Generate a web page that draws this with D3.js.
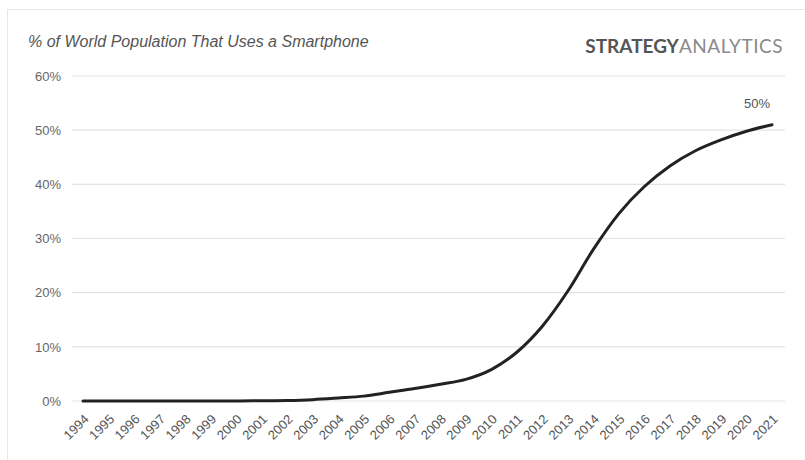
<!DOCTYPE html>
<html lang="en">
<head>
<meta charset="UTF-8">
<title>Smartphone users</title>
<script src="https://d3js.org/d3.v7.min.js"></script>
<style>
  body { margin: 0; background: #fff; }
  text { font-family: "Liberation Sans", Arial, sans-serif; }
</style>
</head>
<body>
<script>
  // data
  var years = [1994, 1995, 1996, 1997, 1998, 1999, 2000, 2001, 2002, 2003, 2004, 2005, 2006, 2007,
               2008, 2009, 2010, 2011, 2012, 2013, 2014, 2015, 2016, 2017, 2018, 2019, 2020, 2021]
  var share = [0, 0, 0, 0, 0, 0, 0, 0.05, 0.1, 0.25, 0.55, 0.9, 1.6, 2.3,
               3.1, 4.0, 5.8, 9.0, 13.8, 20.3, 28.0, 34.6, 39.6, 43.4, 46.2, 48.2, 49.8, 51.0]
  var yTicks = [0, 10, 20, 30, 40, 50, 60]
  var title = '% of World Population That Uses a Smartphone'
  var endLabel = '50%'

  var w = 805, h = 460
  var svg = d3.select('body').append('svg')
      .attr('width', w).attr('height', h)

  // frame
  svg.append('rect')
      .attr('x', 7.5).attr('y', 9.5)
      .attr('width', w).attr('height', h)
      .attr('fill', 'none').attr('stroke', '#e6e6e6')

  var x = d3.scalePoint().domain(years).range([83, 772])
  var y = d3.scaleLinear().domain([0, 60]).range([401, 76])

  // gridlines
  svg.append('g').selectAll('line')
      .data(yTicks).enter().append('line')
      .attr('x1', 72).attr('x2', 785)
      .attr('y1', d => y(d)).attr('y2', d => y(d))
      .attr('stroke', '#e3e3e3').attr('stroke-width', 1.2)

  var axisY = d3.axisLeft(y).tickValues(yTicks).tickSize(0).tickPadding(0)
      .tickFormat(d => d + '%')
  svg.append('g')
      .attr('transform', 'translate(61,0)')
      .call(axisY)
      .call(g => g.select('.domain').remove())
      .selectAll('text')
      .attr('fill', '#666').attr('font-size', 13)
      .attr('font-family', '"Liberation Sans", Arial, sans-serif')

  var axisX = d3.axisBottom(x).tickSize(0).tickPadding(0)
  svg.append('g')
      .attr('transform', 'translate(0,401)')
      .call(axisX)
      .call(g => g.select('.domain').remove())
      .selectAll('text')
      .attr('fill', '#555').attr('font-size', 13)
      .attr('font-family', '"Liberation Sans", Arial, sans-serif')
      .attr('text-anchor', 'end')
      .attr('dy', 0)
      .attr('transform', 'translate(6,19) rotate(-45)')

  // line
  var line = d3.line()
      .x((d, i) => x(years[i]))
      .y(d => y(d))
      .curve(d3.curveMonotoneX)

  svg.append('path')
      .datum(share)
      .attr('d', line)
      .attr('fill', 'none')
      .attr('stroke', '#222')
      .attr('stroke-width', 3)
      .attr('stroke-linecap', 'round')

  svg.append('text')
      .attr('x', x(2021) - 2).attr('y', y(share[share.length - 1]) - 17)
      .attr('text-anchor', 'end')
      .attr('fill', '#555').attr('font-size', 13)
      .text(endLabel)

  // titles
  svg.append('text')
      .attr('x', 28).attr('y', 47)
      .attr('font-style', 'italic').attr('font-size', 16)
      .attr('fill', '#555')
      .text(title)

  var brand = svg.append('text')
      .attr('x', 783).attr('y', 53)
      .attr('text-anchor', 'end')
      .attr('font-size', 19)
      .style('font-family', 'Lato, "Open Sans", sans-serif')
  brand.append('tspan').attr('fill', '#555').attr('font-weight', 'bold').text('STRATEGY')
  brand.append('tspan').attr('fill', '#8a8a8a').attr('letter-spacing', 0.5).text('ANALYTICS')
</script>
</body>
</html>
